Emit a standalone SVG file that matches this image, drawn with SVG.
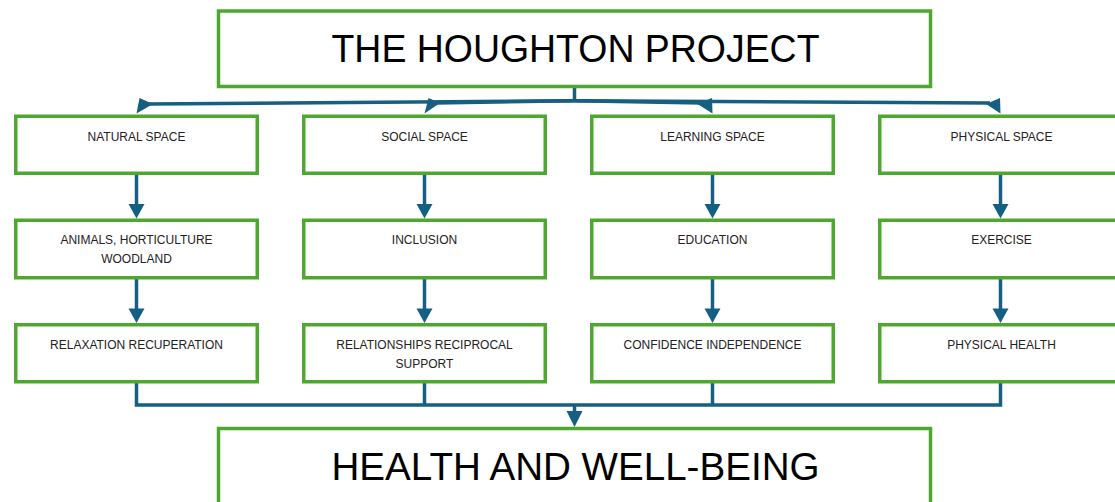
<svg xmlns="http://www.w3.org/2000/svg" width="1115" height="502" viewBox="0 0 1115 502">
  <style>
    .box { fill: #ffffff; stroke: #4EA72E; stroke-width: 3.5; }
    .title { font-family: "Liberation Sans", Arial, sans-serif; font-size: 39px; fill: #000000; text-anchor: middle; }
    .label { font-family: "Liberation Sans", Arial, sans-serif; font-size: 12px; fill: #222222; text-anchor: middle; }
    .wire { fill: none; stroke: #156082; stroke-width: 3.5; }
    .head { fill: #156082; stroke: none; }
  </style>
  <defs>
    <marker id="arrow" markerUnits="userSpaceOnUse" markerWidth="16" markerHeight="14" refX="14" refY="8" orient="auto">
      <path d="M0,0 L14,8 L0,16 Z" class="head"/>
    </marker>
  </defs>

  <!-- connectors -->
  <g id="connectors">
    <!-- from the project box out to the four spaces -->
    <path class="wire" d="M574.5,88 V101"/>
    <path class="wire" d="M574.5,100.8 L148,104"/>
    <path class="wire" d="M574.5,100.8 L436,103"/>
    <path class="wire" d="M574.5,100.8 L702,103"/>
    <path class="wire" d="M574.5,100.8 L990,103"/>
    <polygon class="head" points="139.5,98 153,104 136.5,113.5"/>
    <polygon class="head" points="428.5,98 440,103 424.5,113.5"/>
    <polygon class="head" points="712,98 697.5,104 712.5,113.5"/>
    <polygon class="head" points="1000,98 986,104 1000.5,113.5"/>

    <!-- column arrows, row 1 to row 2 -->
    <path class="wire" d="M136.5,175 V205"/>
    <path class="wire" d="M424.5,175 V205"/>
    <path class="wire" d="M712.5,175 V205"/>
    <path class="wire" d="M1000.5,175 V205"/>
    <polygon class="head" points="128.5,204 144.5,204 136.5,218.5"/>
    <polygon class="head" points="416.5,204 432.5,204 424.5,218.5"/>
    <polygon class="head" points="704.5,204 720.5,204 712.5,218.5"/>
    <polygon class="head" points="992.5,204 1008.5,204 1000.5,218.5"/>

    <!-- column arrows, row 2 to row 3 -->
    <path class="wire" d="M136.5,279 V309"/>
    <path class="wire" d="M424.5,279 V309"/>
    <path class="wire" d="M712.5,279 V309"/>
    <path class="wire" d="M1000.5,279 V309"/>
    <polygon class="head" points="128.5,308.5 144.5,308.5 136.5,323"/>
    <polygon class="head" points="416.5,308.5 432.5,308.5 424.5,323"/>
    <polygon class="head" points="704.5,308.5 720.5,308.5 712.5,323"/>
    <polygon class="head" points="992.5,308.5 1008.5,308.5 1000.5,323"/>

    <!-- gathering into health and well-being -->
    <path class="wire" d="M136.5,383 V405 H1000.5 V383"/>
    <path class="wire" d="M424.5,383 V405"/>
    <path class="wire" d="M712.5,383 V405"/>
    <path class="wire" d="M574.5,405 V412"/>
    <polygon class="head" points="566.5,411 582.5,411 574.5,427"/>
  </g>

  <!-- top box -->
  <g id="project">
    <rect class="box" x="218.5" y="11" width="712" height="75.5"/>
    <text class="title" x="575.5" y="62" textLength="488" lengthAdjust="spacingAndGlyphs">THE HOUGHTON PROJECT</text>
  </g>

  <!-- row 1: spaces -->
  <g id="natural-space">
    <rect class="box" x="15.75" y="116.25" width="241.5" height="57"/>
    <text class="label" x="136.5" y="140.5">NATURAL SPACE</text>
  </g>
  <g id="social-space">
    <rect class="box" x="303.75" y="116.25" width="241.5" height="57"/>
    <text class="label" x="424.5" y="140.5">SOCIAL SPACE</text>
  </g>
  <g id="learning-space">
    <rect class="box" x="591.75" y="116.25" width="241.5" height="57"/>
    <text class="label" x="712.5" y="140.5">LEARNING SPACE</text>
  </g>
  <g id="physical-space">
    <rect class="box" x="879.75" y="116.25" width="241.5" height="57"/>
    <text class="label" x="1001.5" y="140.5">PHYSICAL SPACE</text>
  </g>

  <!-- row 2: activities -->
  <g id="animals">
    <rect class="box" x="15.75" y="220.25" width="241.5" height="57.5"/>
    <text class="label" x="136.5" y="244"><tspan x="136.5" y="244">ANIMALS, HORTICULTURE</tspan><tspan x="136.5" y="262.7">WOODLAND</tspan></text>
  </g>
  <g id="inclusion">
    <rect class="box" x="303.75" y="220.25" width="241.5" height="57.5"/>
    <text class="label" x="424.5" y="244">INCLUSION</text>
  </g>
  <g id="education">
    <rect class="box" x="591.75" y="220.25" width="241.5" height="57.5"/>
    <text class="label" x="712.5" y="244">EDUCATION</text>
  </g>
  <g id="exercise">
    <rect class="box" x="879.75" y="220.25" width="241.5" height="57.5"/>
    <text class="label" x="1001.5" y="244">EXERCISE</text>
  </g>

  <!-- row 3: outcomes -->
  <g id="relaxation">
    <rect class="box" x="15.75" y="324.75" width="241.5" height="57"/>
    <text class="label" x="136.5" y="349">RELAXATION RECUPERATION</text>
  </g>
  <g id="relationships">
    <rect class="box" x="303.75" y="324.75" width="241.5" height="57"/>
    <text class="label" x="424.5" y="349"><tspan x="424.5" y="349">RELATIONSHIPS RECIPROCAL</tspan><tspan x="424.5" y="368">SUPPORT</tspan></text>
  </g>
  <g id="confidence">
    <rect class="box" x="591.75" y="324.75" width="241.5" height="57"/>
    <text class="label" x="712.5" y="349">CONFIDENCE INDEPENDENCE</text>
  </g>
  <g id="physical-health">
    <rect class="box" x="879.75" y="324.75" width="241.5" height="57"/>
    <text class="label" x="1001.5" y="349">PHYSICAL HEALTH</text>
  </g>

  <!-- bottom box -->
  <g id="health">
    <rect class="box" x="218.5" y="428.5" width="712" height="80"/>
    <text class="title" x="575.5" y="479.5" textLength="488" lengthAdjust="spacingAndGlyphs">HEALTH AND WELL-BEING</text>
  </g>
</svg>
